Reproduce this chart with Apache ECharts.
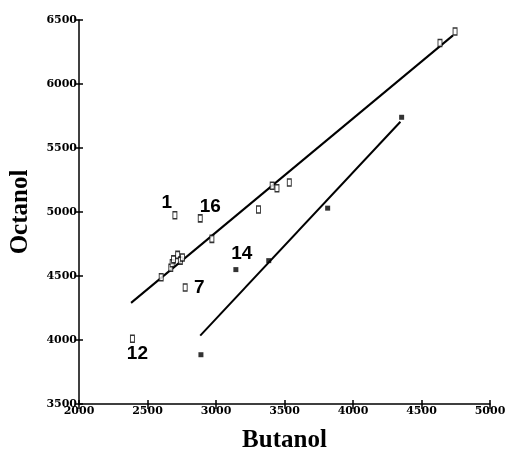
<!DOCTYPE html>
<html>
<head>
<meta charset="utf-8">
<script src="https://cdn.jsdelivr.net/npm/echarts@6/dist/echarts.min.js"></script>
<style>
    html, body { margin: 0; padding: 0; background: #fff; }
    #chart { width: 510px; height: 454px; }
</style>
</head>
<body>
<div id="chart"></div>
<script>
// open squares: [butanol, octanol]
let openPoints = [
    [2390, 4010], [2600, 4490], [2670, 4565], [2680, 4600], [2690, 4630],
    [2720, 4665], [2740, 4620], [2755, 4645], [2970, 4790], [3310, 5020],
    [3410, 5205], [3445, 5185], [3535, 5230], [4635, 6320], [4745, 6410],
    [2700, 4975], [2885, 4950], [2775, 4410]
];
// filled squares
let filledPoints = [
    [2890, 3885], [3145, 4550], [3385, 4620], [3815, 5030], [4355, 5740]
];
// numbered labels: [butanol, octanol, text, offsetX, offsetY]
let labelPoints = [
    [2700, 4975, "1", -8, -12],
    [2885, 4950, "16", 10, -12],
    [3145, 4550, "14", 6, -16],
    [2775, 4410, "7", 14, 0],
    [2390, 4010, "12", 5, 15]
];
// fitted lines
let lineOpen = [[2380, 4290], [4730, 6380]];
let lineFilled = [[2885, 4034], [4346, 5705]];

function paintChart(element) {
    let chart = echarts.init(document.getElementById(element));
    let tickFont = {
        color: "#000",
        fontFamily: "DejaVu Serif",
        fontWeight: "bold",
        fontSize: 11,
        formatter: value => String(value)
    };
    let nameFont = {
        color: "#000",
        fontFamily: "Liberation Serif",
        fontWeight: "bold",
        fontSize: 25
    };
    let option = {
        animation: false,
        backgroundColor: "#fff",
        grid: {
            left: 79,
            right: 20,
            top: 20,
            bottom: 50,
            outerBoundsMode: "none"
        },
        xAxis: [
            {
                type: "value",
                min: 2000,
                max: 5000,
                interval: 500,
                name: "Butanol",
                nameLocation: "middle",
                nameGap: 24,
                nameTextStyle: nameFont,
                axisLine: { lineStyle: { color: "#000", width: 1.5 } },
                axisTick: { length: 5, lineStyle: { color: "#000", width: 1.5 } },
                axisLabel: Object.assign({ margin: 2 }, tickFont),
                splitLine: { show: false }
            },
            {
                // inner half of the cross ticks
                type: "value",
                position: "bottom",
                min: 2000,
                max: 5000,
                interval: 500,
                axisLine: { show: false },
                axisTick: { inside: true, length: 4, lineStyle: { color: "#000", width: 1.5 } },
                axisLabel: { show: false },
                splitLine: { show: false }
            }
        ],
        yAxis: [
            {
                type: "value",
                min: 3500,
                max: 6500,
                interval: 500,
                name: "Octanol",
                nameLocation: "middle",
                nameGap: 46,
                nameTextStyle: nameFont,
                axisLine: { lineStyle: { color: "#000", width: 1.5 } },
                axisTick: { length: 4, lineStyle: { color: "#000", width: 1.5 } },
                axisLabel: Object.assign({ margin: 2 }, tickFont),
                splitLine: { show: false }
            },
            {
                type: "value",
                position: "left",
                min: 3500,
                max: 6500,
                interval: 500,
                axisLine: { show: false },
                axisTick: { inside: true, length: 4, lineStyle: { color: "#000", width: 1.5 } },
                axisLabel: { show: false },
                splitLine: { show: false }
            }
        ],
        series: [
            {
                name: "fit open",
                type: "line",
                data: lineOpen,
                symbol: "none",
                lineStyle: { color: "#000", width: 2 },
                z: 1
            },
            {
                name: "fit filled",
                type: "line",
                data: lineFilled,
                symbol: "none",
                lineStyle: { color: "#000", width: 2 },
                z: 1
            },
            {
                name: "open",
                type: "scatter",
                data: openPoints,
                symbol: "rect",
                symbolSize: [4, 7],
                itemStyle: { color: "#fff", borderColor: "#000", borderWidth: 1.2 },
                z: 3
            },
            {
                name: "filled",
                type: "scatter",
                data: filledPoints,
                symbol: "rect",
                symbolSize: [5, 5],
                itemStyle: { color: "#000" },
                z: 3
            },
            {
                name: "labels",
                type: "scatter",
                symbol: "circle",
                symbolSize: 0,
                itemStyle: { color: "#000", opacity: 1 },
                data: labelPoints.map(p => ({
                    value: [p[0], p[1]],
                    label: {
                        show: true,
                        position: "inside",
                        offset: [p[3], p[4]],
                        formatter: p[2],
                        color: "#000",
                        opacity: 1,
                        textBorderWidth: 0,
                        fontFamily: "Liberation Sans",
                        fontWeight: "bold",
                        fontSize: 19
                    }
                })),
                z: 4
            }
        ]
    };
    chart.setOption(option);
}

paintChart("chart");
</script>
</body>
</html>
